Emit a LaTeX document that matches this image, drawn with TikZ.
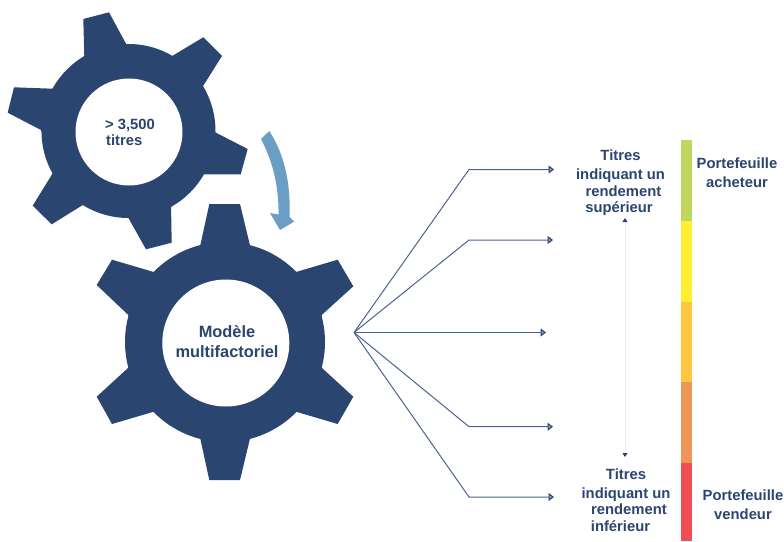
\documentclass[tikz,border=0pt]{standalone}
\usepackage{fontspec}
\setmainfont{Liberation Sans}
\usetikzlibrary{arrows.meta}
\definecolor{navy}{HTML}{2A4570}
\definecolor{sky}{HTML}{6A9EC5}
\definecolor{lineblue}{HTML}{4A6390}
\definecolor{headfill}{HTML}{8FA2C0}
\tikzset{
  gearfill/.style={fill=navy,draw=none},
  hub/.style={circle,fill=white,draw=none,inner sep=0pt,minimum size=#1},
  label/.style={text=navy,font=\bfseries\fontsize{14.8}{16.5}\selectfont,align=center,inner sep=0pt},
  biglabel/.style={label,font=\bfseries\fontsize{16.4}{20}\selectfont},
  fan/.style={draw=lineblue,line width=1pt,-{Triangle[length=5.5pt,width=8pt,fill=headfill,line width=1.1pt,color=navy,fill=headfill]}},
  span/.style={draw=black!8,line width=0.8pt,{Triangle[length=4pt,width=5pt,color=navy]}-{Triangle[length=4pt,width=5pt,color=navy]}},
}
\begin{document}
\begin{tikzpicture}[x=1pt,y=-1pt]
\useasboundingbox (0,0) rectangle (784,541);
% upper gear
\fill[gearfill] (83.3,19) -- (109,12.3) -- (126.7,45) -- (171,56.7) -- (203.3,37.3) -- (222,56) -- (202,87.7)
  -- (214,131.7) -- (247.7,149) -- (240.7,174.3) -- (202.3,174.3) -- (171,204.3) -- (171.7,242.7) -- (146,249.3)
  -- (127.3,216) -- (83.3,204.7) -- (51.7,224.3) -- (32.7,205.7) -- (52.7,173.3) -- (41,130) -- (7.7,112.7)
  -- (14,87.3) -- (52.7,88.7) -- (84.3,56.7) -- cycle;
\fill[gearfill] (128.5,131) circle[radius=87];
\node[hub=107pt] (hubA) at (129,132) {};
% lower gear
\fill[gearfill] (200,246.7) -- (209.3,204) -- (240,204) -- (250.3,246.7) -- (296,272) -- (337.7,259.7) -- (353.3,286.3)
  -- (321.7,315) -- (321.7,367.7) -- (353.3,396.7) -- (337.7,424) -- (296,411.7) -- (250.3,437.3) -- (240,480)
  -- (209.3,480) -- (200,437.3) -- (153.7,411.7) -- (112,424) -- (96.7,396.7) -- (128.3,367.7) -- (128.3,315)
  -- (96.7,285) -- (112,259.7) -- (153.7,272) -- cycle;
\fill[gearfill] (225,342) circle[radius=100];
\node[hub=127pt] (hubB) at (225.8,343) {};
% gear labels
\node[label,align=left] (txtA) at (130,132.5) {\fontsize{14.8}{17.5}\selectfont > 3,500\\[0pt]\hspace*{1pt}titres};
\node[biglabel] (txtB) at (227,341.7) {Modèle\\multifactoriel};
% curved arrow
\fill[sky] (269.3,131) .. controls (283,152) and (291,180) .. (289.5,217) -- (294.3,221.5) -- (280,230) -- (270,213)
  -- (278.5,214.5) .. controls (279,185) and (272,160) .. (261,139) -- cycle;
% fan
\coordinate (src) at (354,332.5);
\coordinate (b1) at (469,169.5);
\coordinate (b2) at (469,240);
\coordinate (b4) at (469,426.7);
\coordinate (b5) at (469,497);
\coordinate (e1) at (554,169.5);
\coordinate (e2) at (553,240);
\coordinate (e3) at (546,332.5);
\coordinate (e4) at (553,426.7);
\coordinate (e5) at (554,497);
\draw[fan] (src) -- (b1) -- (e1);
\draw[fan] (src) -- (b2) -- (e2);
\draw[fan] (src) -- (e3);
\draw[fan] (src) -- (b4) -- (e4);
\draw[fan] (src) -- (b5) -- (e5);
% labels on the right
\node[label] (top) at (620.5,183) {Titres\\[2.5pt]indiquant un\\\hspace*{6pt}rendement\\\hspace*{0pt}supérieur\hspace*{3pt}};
\node[label] (bot) at (626,500) {Titres\\[2.5pt]indiquant un\\\hspace*{6pt}rendement\\inférieur\hspace*{11pt}};
\node[label,font=\bfseries\fontsize{14.8}{19.3}\selectfont] (buy) at (737,173) {Portefeuille\\acheteur};
\node[label,font=\bfseries\fontsize{14.8}{19.3}\selectfont] (sell) at (743,504.5) {Portefeuille\\vendeur};
% vertical double arrow
\coordinate (up) at (625,218);
\coordinate (down) at (625,457);
\draw[span] (up) -- (down);
% colour bar
\fill[fill={rgb,255:red,191;green,215;blue,92}] (680.7,140) rectangle (691.7,221);
\fill[fill={rgb,255:red,255;green,238;blue,50}] (680.7,221) rectangle (691.7,301.5);
\fill[fill={rgb,255:red,255;green,198;blue,64}] (680.7,301.5) rectangle (691.7,382);
\fill[fill={rgb,255:red,238;green,150;blue,88}] (680.7,382) rectangle (691.7,462.5);
\fill[fill={rgb,255:red,240;green,78;blue,82}] (680.7,462.5) rectangle (691.7,541);
\end{tikzpicture}
\end{document}
